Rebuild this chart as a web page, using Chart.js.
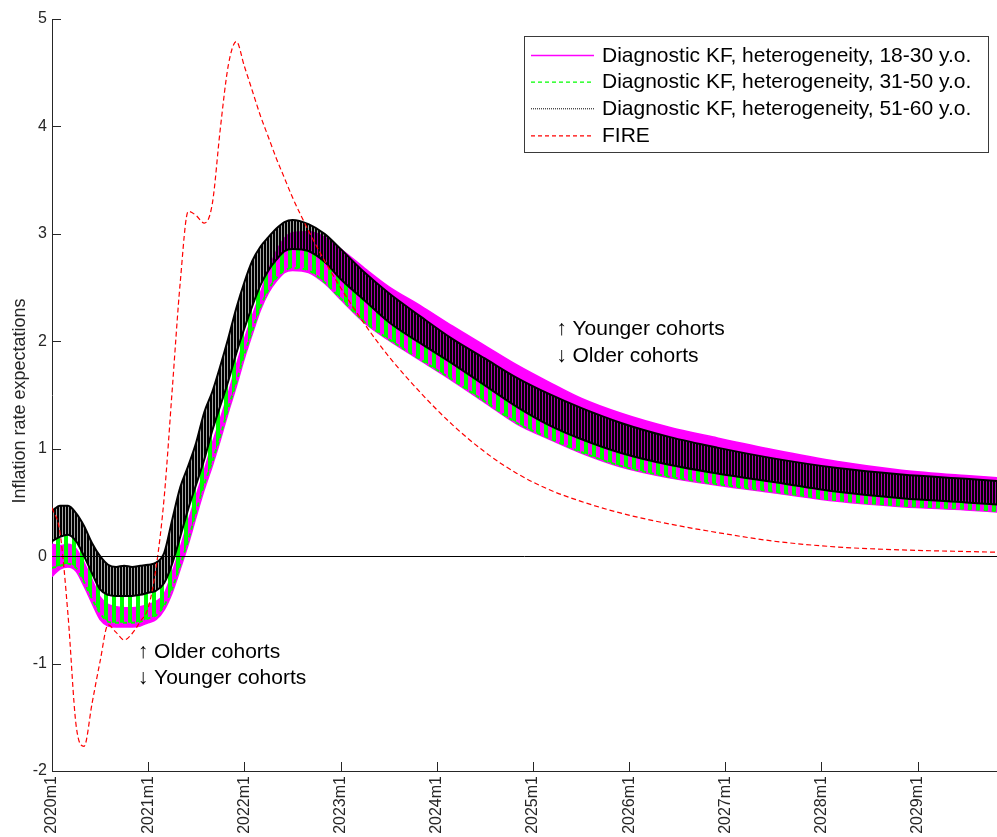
<!DOCTYPE html>
<html>
<head>
<meta charset="utf-8">
<script src="https://cdn.jsdelivr.net/npm/chart.js@4.4.1/dist/chart.umd.min.js"></script>
<style>
    html, body { margin: 0; padding: 0; background: #ffffff; }
</style>
</head>
<body>
<canvas id="wykres" width="997" height="837"></canvas>
<script>
// months since 2020m1
var months = [0, 1, 2, 3, 4, 5, 6, 7, 8, 9, 10, 11, 12, 13, 14, 15, 16, 17, 18, 19,
    20, 21, 22, 23, 24, 25, 26, 27, 28, 29, 30, 32, 34, 36, 39, 42, 46, 50, 54, 58,
    62, 66, 71, 77, 83, 90, 98, 106, 114, 118];

var fire = [0.45, 0.22, -0.55, -1.57, -1.77, -1.37, -0.98, -0.64, -0.71, -0.78,
    -0.72, -0.61, -0.48, -0.10, 0.55, 1.55, 2.55, 3.21, 3.17, 3.10,
    3.28, 3.98, 4.57, 4.79, 4.56, 4.33, 4.10, 3.90, 3.70, 3.52,
    3.34, 3.03, 2.75, 2.50, 2.16, 1.86, 1.52, 1.22, 0.97, 0.77,
    0.62, 0.51, 0.40, 0.30, 0.22, 0.14, 0.085, 0.058, 0.043, 0.036];

// 51-60 y.o. band (upper / lower edge)
var oldHigh = [0.42, 0.47, 0.47, 0.40, 0.28, 0.12, 0.00, -0.08, -0.10, -0.09,
    -0.10, -0.09, -0.08, -0.06, 0.03, 0.34, 0.64, 0.84, 1.06, 1.34,
    1.53, 1.77, 2.03, 2.31, 2.55, 2.75, 2.88, 2.97, 3.05, 3.11,
    3.13, 3.09, 3.00, 2.86, 2.64, 2.45, 2.23, 2.02, 1.84, 1.66,
    1.51, 1.38, 1.24, 1.11, 1.01, 0.91, 0.82, 0.76, 0.72, 0.70];
var oldLow = [0.14, 0.18, 0.20, 0.14, 0.00, -0.16, -0.31, -0.36, -0.37, -0.37,
    -0.37, -0.36, -0.34, -0.32, -0.25, -0.07, 0.18, 0.44, 0.67, 0.90,
    1.17, 1.40, 1.63, 1.89, 2.12, 2.33, 2.52, 2.66, 2.76, 2.84,
    2.86, 2.84, 2.74, 2.58, 2.38, 2.18, 1.98, 1.79, 1.59, 1.39,
    1.22, 1.09, 0.96, 0.85, 0.77, 0.69, 0.60, 0.54, 0.50, 0.48];

// 31-50 y.o. band, lower edge (upper edge sits on the 51-60 band)
var midLow = [-0.11, -0.09, -0.07, -0.11, -0.24, -0.40, -0.53, -0.61, -0.62, -0.62,
    -0.62, -0.61, -0.58, -0.55, -0.46, -0.30, -0.08, 0.15, 0.42, 0.67,
    0.88, 1.12, 1.38, 1.62, 1.88, 2.10, 2.32, 2.48, 2.59, 2.66,
    2.68, 2.66, 2.55, 2.40, 2.18, 2.02, 1.83, 1.64, 1.44, 1.24,
    1.10, 0.97, 0.84, 0.74, 0.67, 0.60, 0.52, 0.47, 0.44, 0.42];

// 18-30 y.o. band (upper / lower edge)
var youngHigh = [0.11, 0.10, 0.11, 0.07, -0.06, -0.22, -0.38, -0.45, -0.47, -0.48,
    -0.48, -0.47, -0.45, -0.42, -0.35, -0.15, 0.08, 0.33, 0.57, 0.80,
    1.05, 1.28, 1.52, 1.78, 2.02, 2.24, 2.45, 2.66, 2.84, 2.96,
    3.01, 3.02, 2.97, 2.86, 2.68, 2.51, 2.33, 2.14, 1.96, 1.78,
    1.62, 1.47, 1.33, 1.20, 1.10, 0.99, 0.88, 0.80, 0.75, 0.73];
var youngLow = [-0.19, -0.12, -0.10, -0.14, -0.28, -0.44, -0.59, -0.65, -0.66, -0.66,
    -0.66, -0.65, -0.62, -0.59, -0.50, -0.34, -0.12, 0.11, 0.37, 0.62,
    0.84, 1.08, 1.34, 1.58, 1.84, 2.07, 2.29, 2.45, 2.56, 2.64,
    2.66, 2.64, 2.54, 2.39, 2.17, 2.01, 1.82, 1.63, 1.43, 1.23,
    1.09, 0.96, 0.83, 0.73, 0.66, 0.59, 0.51, 0.46, 0.43, 0.41];

var legendLabels = ['Diagnostic KF, heterogeneity, 18-30 y.o.',
    'Diagnostic KF, heterogeneity, 31-50 y.o.',
    'Diagnostic KF, heterogeneity, 51-60 y.o.',
    'FIRE'];

var FONT = "'Liberation Sans', Arial, Helvetica, sans-serif";
var AXIS = '#262626';

function pts(values) {
    return months.map(function (m, i) { return { x: m, y: values[i] }; });
}

var canvas = document.getElementById('wykres');
var ctx = canvas.getContext('2d');

// vertical hatching used to fill the bands
function stripes(period, on, color, gapColor) {
    var c = document.createElement('canvas');
    c.width = period;
    c.height = 4;
    var g = c.getContext('2d');
    if (gapColor) {
        g.fillStyle = gapColor;
        g.fillRect(0, 0, period, 4);
    }
    g.fillStyle = color;
    g.fillRect(0, 0, on, 4);
    return ctx.createPattern(c, 'repeat');
}

var greenStripes = stripes(8, 4, '#00ff00');
var blackStripes = stripes(3, 2, '#000000', 'rgba(0,0,0,0.35)');

var extras = {
    id: 'extras',
    afterDatasetsDraw: function (chart) {
        var c = chart.ctx, xs = chart.scales.x, ys = chart.scales.y;
        var y0 = Math.round(ys.getPixelForValue(0)) + 0.5;
        c.save();
        c.strokeStyle = '#000000';
        c.lineWidth = 1;
        c.beginPath();
        c.moveTo(xs.left, y0);
        c.lineTo(xs.right, y0);
        c.stroke();
        c.restore();
    },
    afterDraw: function (chart) {
        var c = chart.ctx, xs = chart.scales.x, ys = chart.scales.y;
        c.save();

        // inward ticks
        c.strokeStyle = AXIS;
        c.lineWidth = 1;
        c.beginPath();
        xs.ticks.forEach(function (t) {
            var px = Math.round(xs.getPixelForValue(t.value)) + 0.5;
            c.moveTo(px, ys.bottom);
            c.lineTo(px, ys.bottom - 9);
        });
        ys.ticks.forEach(function (t) {
            var py = Math.round(ys.getPixelForValue(t.value)) + 0.5;
            c.moveTo(xs.left, py);
            c.lineTo(xs.left + 9, py);
        });
        c.stroke();

        // y axis title
        c.fillStyle = AXIS;
        c.font = '18px ' + FONT;
        c.textAlign = 'center';
        c.textBaseline = 'middle';
        c.translate(20, 401);
        c.rotate(-Math.PI / 2);
        c.fillText('Inflation rate expectations', 0, 0);
        c.setTransform(1, 0, 0, 1, 0, 0);
        c.restore();

        // cohort notes
        c.save();
        c.fillStyle = '#000000';
        c.font = '21px ' + FONT;
        c.textAlign = 'left';
        c.textBaseline = 'middle';
        c.fillText('\u2191 Younger cohorts', xs.getPixelForValue(62.9), ys.getPixelForValue(2.11));
        c.fillText('\u2193 Older cohorts', xs.getPixelForValue(62.9), ys.getPixelForValue(1.86));
        c.fillText('\u2191 Older cohorts', xs.getPixelForValue(10.7), ys.getPixelForValue(-0.89));
        c.fillText('\u2193 Younger cohorts', xs.getPixelForValue(10.7), ys.getPixelForValue(-1.14));
        c.restore();

        // legend box
        c.save();
        var bx = 524.5, by = 36.5, bw = 464, bh = 116;
        c.fillStyle = '#ffffff';
        c.fillRect(bx, by, bw, bh);
        c.strokeStyle = '#3a3a3a';
        c.lineWidth = 1;
        c.strokeRect(bx, by, bw, bh);
        var styles = [
            { color: '#ff00ff', dash: [], width: 1.5 },
            { color: '#00ff00', dash: [4, 3], width: 1.2 },
            { color: '#000000', dash: [1, 1], width: 1 },
            { color: '#ff0000', dash: [4, 3], width: 1.2 }
        ];
        var rows = [55, 81.7, 108.3, 135.3];
        c.font = '21px ' + FONT;
        c.textAlign = 'left';
        c.textBaseline = 'middle';
        legendLabels.forEach(function (label, i) {
            var s = styles[i];
            c.strokeStyle = s.color;
            c.lineWidth = s.width;
            c.setLineDash(s.dash);
            c.beginPath();
            c.moveTo(531, rows[i] + 0.5);
            c.lineTo(594, rows[i] + 0.5);
            c.stroke();
            c.setLineDash([]);
            c.fillStyle = '#000000';
            c.fillText(label, 602, rows[i] + 1);
        });
        c.restore();
    }
};

var myChart = new Chart(ctx, {
    type: 'line',
    data: {
        datasets: [
            {
                label: 'FIRE',
                data: pts(fire),
                borderColor: '#ff0000',
                borderWidth: 1.2,
                borderDash: [5, 3],
                fill: false
            },
            {
                label: '51-60 high',
                data: pts(oldHigh),
                borderColor: '#000000',
                borderWidth: 2,
                backgroundColor: blackStripes,
                fill: 2
            },
            {
                label: '51-60 low',
                data: pts(oldLow),
                borderColor: '#000000',
                borderWidth: 2,
                fill: false
            },
            {
                label: '31-50 low',
                data: pts(midLow),
                borderColor: '#00ff00',
                borderWidth: 2,
                borderDash: [4, 4],
                backgroundColor: greenStripes,
                fill: 2
            },
            {
                label: '18-30 high',
                data: pts(youngHigh),
                borderColor: '#ff00ff',
                borderWidth: 1.5,
                backgroundColor: '#ff00ff',
                fill: 5
            },
            {
                label: '18-30 low',
                data: pts(youngLow),
                borderColor: '#ff00ff',
                borderWidth: 1.5,
                fill: false
            }
        ]
    },
    options: {
        responsive: false,
        animation: false,
        layout: { padding: { top: 19, right: 0, bottom: 0, left: 0 } },
        elements: {
            point: { radius: 0 },
            line: { cubicInterpolationMode: 'monotone' }
        },
        plugins: {
            legend: { display: false },
            tooltip: { enabled: false }
        },
        scales: {
            x: {
                type: 'linear',
                min: 0,
                max: 117.9,
                grid: { display: false, drawTicks: false },
                border: { display: true, color: AXIS, width: 1 },
                ticks: {
                    stepSize: 12,
                    includeBounds: false,
                    minRotation: 90,
                    maxRotation: 90,
                    padding: 5,
                    color: AXIS,
                    font: { size: 16, family: FONT },
                    callback: function (v) { return (2020 + Math.round(v / 12)) + 'm1'; }
                },
                afterFit: function (s) { s.height = 66; }
            },
            y: {
                min: -2,
                max: 5,
                grid: { display: false, drawTicks: false },
                border: { display: true, color: AXIS, width: 1 },
                ticks: {
                    stepSize: 1,
                    padding: 5,
                    color: AXIS,
                    font: { size: 16, family: FONT }
                },
                afterFit: function (s) { s.width = 52; }
            }
        }
    },
    plugins: [extras]
});
</script>
</body>
</html>
